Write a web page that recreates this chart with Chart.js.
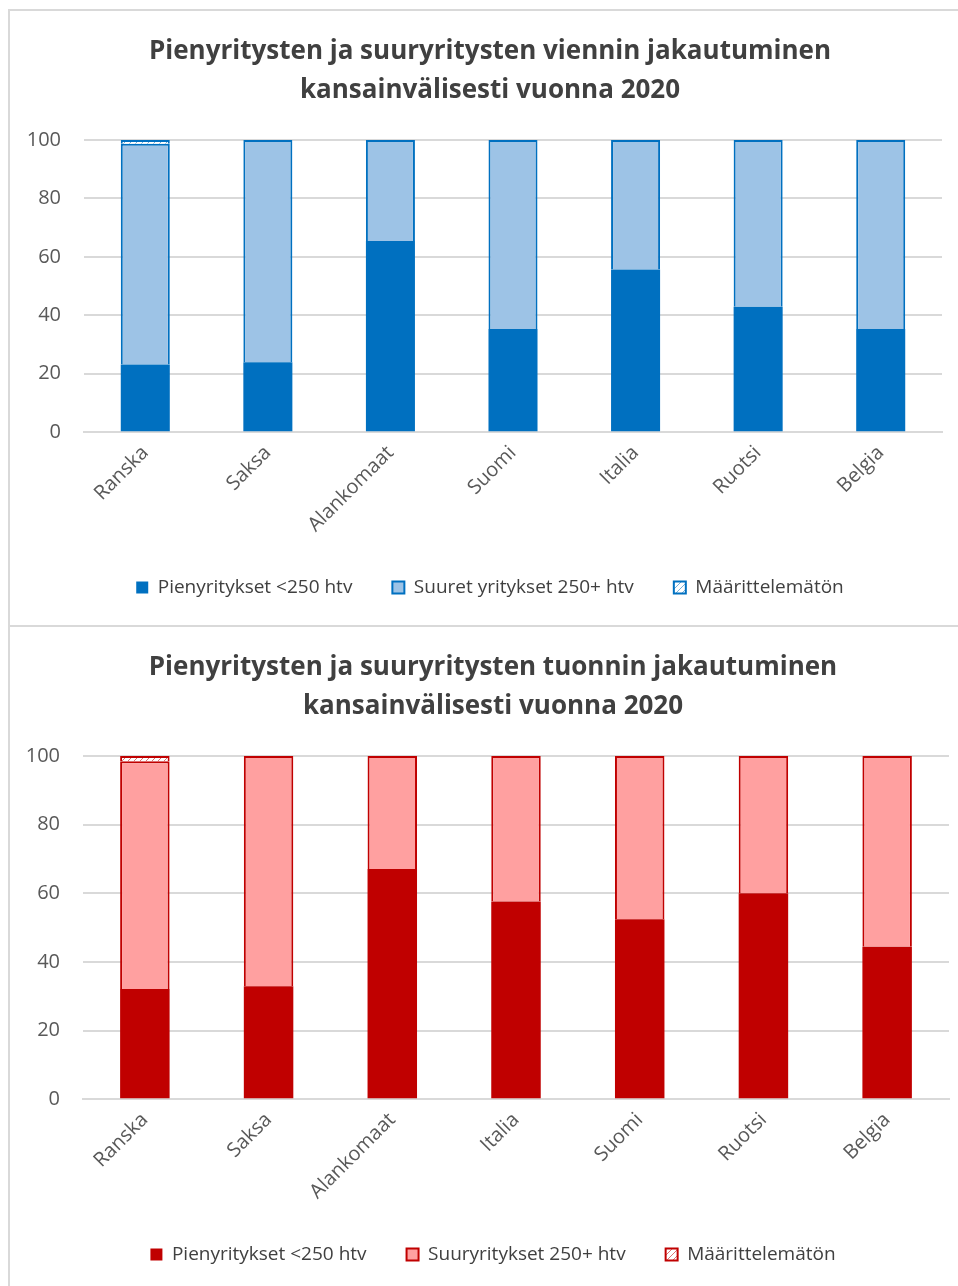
<!DOCTYPE html>
<html>
<head>
<meta charset="utf-8">
<script src="https://cdn.jsdelivr.net/npm/chart.js@4.4.1/dist/chart.umd.min.js"></script>
<style>
    html, body { margin: 0; padding: 0; background: #ffffff; overflow: hidden; width: 958px; height: 1286px; }
    .panel { position: absolute; border: 2px solid #d9d9d9; box-sizing: border-box; background: #fff; }
    #panelTop { left: 8px; top: 9px; width: 970px; height: 618px; }
    #panelBottom { left: 8px; top: 625px; width: 970px; height: 680px; }
    canvas { display: block; }
</style>
</head>
<body>
<div class="panel" id="panelTop"><canvas id="exportChart"></canvas></div>
<div class="panel" id="panelBottom"><canvas id="importChart"></canvas></div>
<script>
const exportCountries = ["Ranska", "Saksa", "Alankomaat", "Suomi", "Italia", "Ruotsi", "Belgia"];
const exportSmall = [23.2, 23.9, 65.4, 35.3, 55.7, 42.9, 35.3];
const exportLarge = [75.5, 76.1, 34.6, 64.7, 44.3, 57.1, 64.7];
const exportUnknown = [1.3, 0, 0, 0, 0, 0, 0];

const importCountries = ["Ranska", "Saksa", "Alankomaat", "Italia", "Suomi", "Ruotsi", "Belgia"];
const importSmall = [32.1, 32.9, 67.1, 57.6, 52.4, 60.0, 44.4];
const importLarge = [66.4, 67.1, 32.9, 42.4, 47.6, 40.0, 55.6];
const importUnknown = [1.5, 0, 0, 0, 0, 0, 0];

const yTicks = [0, 20, 40, 60, 80, 100];

const FONT = "'Open Sans', 'Noto Sans', sans-serif";

function hatch(color) {
    const c = document.createElement("canvas");
    c.width = 6;
    c.height = 6;
    const g = c.getContext("2d");
    g.fillStyle = "#ffffff";
    g.fillRect(0, 0, 6, 6);
    g.strokeStyle = color;
    g.globalAlpha = 0.55;
    g.lineWidth = 1;
    g.beginPath();
    g.moveTo(0, 6); g.lineTo(6, 0);
    g.moveTo(-3, 3); g.lineTo(3, -3);
    g.moveTo(3, 9); g.lineTo(9, 3);
    g.stroke();
    return g.createPattern(c, "repeat");
}

function makeChart(id, opts) {
    const ctx = document.getElementById(id);
    ctx.width = opts.width;
    ctx.height = opts.height;
    return new Chart(ctx, {
        type: "bar",
        data: {
            labels: opts.labels,
            datasets: [{
                label: "Pienyritykset <250 htv",
                data: opts.small,
                backgroundColor: opts.dark,
                borderColor: opts.dark,
                borderWidth: 0
            }, {
                label: opts.largeLabel,
                data: opts.large,
                backgroundColor: opts.light,
                borderColor: opts.dark,
                borderWidth: 2
            }, {
                label: "Määrittelemätön",
                data: opts.unknown,
                backgroundColor: hatch(opts.dark),
                borderColor: opts.dark,
                borderWidth: 2
            }]
        },
        options: {
            responsive: false,
            animation: false,
            layout: { padding: { left: 0, right: opts.padRight, top: 0, bottom: opts.padBottom } },
            datasets: { bar: { categoryPercentage: 1, barPercentage: 0.4 } },
            plugins: {
                title: {
                    display: true,
                    text: opts.title,
                    color: "#404040",
                    font: { family: FONT, size: 26, weight: "bold", lineHeight: 1.5 },
                    padding: { top: 21, bottom: 30 }
                },
                legend: {
                    position: "bottom",
                    labels: {
                        color: "#404040",
                        font: { family: FONT, size: 19 },
                        boxWidth: 12,
                        boxHeight: 12,
                        padding: 40
                    }
                },
                tooltip: { enabled: false }
            },
            scales: {
                x: {
                    stacked: true,
                    grid: { display: false },
                    border: { color: "#d9d9d9", width: 2 },
                    ticks: {
                        color: "#595959",
                        font: { family: FONT, size: 20 },
                        maxRotation: 45,
                        minRotation: 45,
                        padding: 1
                    }
                },
                y: {
                    stacked: true,
                    min: 0,
                    max: 100,
                    afterBuildTicks: (axis) => { axis.ticks = yTicks.map(v => ({ value: v })); },
                    afterFit: (axis) => { axis.width = opts.axisWidth; },
                    grid: { color: "#d9d9d9", lineWidth: 2, drawTicks: false },
                    border: { display: false },
                    ticks: {
                        color: "#595959",
                        font: { family: FONT, size: 20 },
                        padding: 23
                    }
                },
                // empty spacer on the right so the title and legend sit where they should
                spacer: {
                    type: "linear",
                    position: "right",
                    grid: { display: false },
                    border: { display: false },
                    ticks: { display: false },
                    afterFit: (axis) => { axis.width = opts.spacer; }
                }
            }
        }
    });
}

makeChart("exportChart", {
    width: 966, height: 614,
    labels: exportCountries,
    small: exportSmall, large: exportLarge, unknown: exportUnknown,
    largeLabel: "Suuret yritykset 250+ htv",
    title: ["Pienyritysten ja suuryritysten viennin jakautuminen", "kansainvälisesti vuonna 2020"],
    dark: "#0070c0", light: "#9dc3e6",
    padRight: 6, spacer: 28, padBottom: 18, axisWidth: 74
});

makeChart("importChart", {
    width: 966, height: 676,
    labels: importCountries,
    small: importSmall, large: importLarge, unknown: importUnknown,
    largeLabel: "Suuryritykset 250+ htv",
    title: ["Pienyritysten ja suuryritysten tuonnin jakautuminen", "kansainvälisesti vuonna 2020"],
    dark: "#c00000", light: "#ffa0a0",
    padRight: 0, spacer: 27, padBottom: 29, axisWidth: 73
});
</script>
</body>
</html>
